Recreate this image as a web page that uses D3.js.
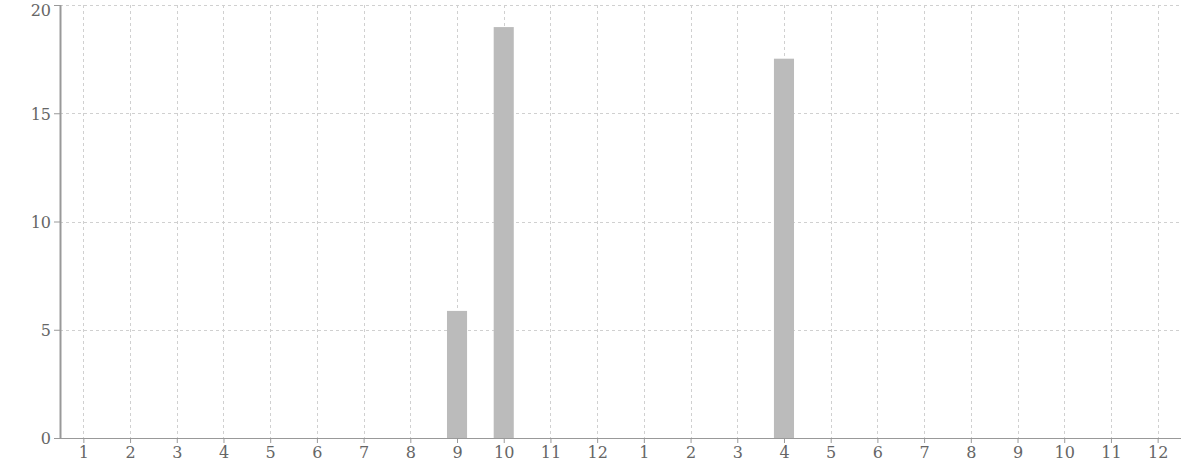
<!DOCTYPE html>
<html><head><meta charset="utf-8">
<script src="https://cdn.jsdelivr.net/npm/d3@7"></script>
<style>body{margin:0;background:#fff}svg{display:block}</style>
</head><body><svg id="c" width="1182" height="472"></svg>
<script>
const categories = ["1","2","3","4","5","6","7","8","9","10","11","12","1","2","3","4","5","6","7","8","9","10","11","12"];
const values = [0,0,0,0,0,0,0,0,5.87,18.98,0,0,0,0,0,17.52,0,0,0,0,0,0,0,0];
const yTicks = [0,5,10,15,20];

const svg = d3.select("#c");
const m = {l:60, r:1, t:5, b:34};
const W = 1182, H = 472;
const idx = d3.range(categories.length);
const x = d3.scaleBand().domain(idx).range([m.l, W - m.r]).paddingInner(0.57).paddingOuter(0.285);
const xc = i => x(i) + x.bandwidth()/2;
const y = d3.scaleLinear().domain([0,20]).range([H - m.b, m.t]);

const grid = svg.append("g").attr("stroke","#d0d0d0").attr("stroke-dasharray","3,3").attr("stroke-width",1);
grid.selectAll(".h").data(yTicks).join("line")
  .attr("x1", m.l).attr("x2", W - m.r)
  .attr("y1", d => Math.round(y(d))+0.5).attr("y2", d => Math.round(y(d))+0.5);
grid.selectAll(".v").data(idx).join("line")
  .attr("x1", d => Math.round(xc(d))+0.5).attr("x2", d => Math.round(xc(d))+0.5)
  .attr("y1", m.t).attr("y2", H - m.b);

svg.append("g").selectAll("rect").data(values).join("rect")
  .attr("x", (d,i) => x(i)).attr("width", x.bandwidth())
  .attr("y", d => y(d)).attr("height", d => y(0) - y(d))
  .attr("fill", "#bbbbbb");

function styleAxis(a) {
  a.attr("font-size", null).attr("font-family", null);
  a.selectAll("path").attr("stroke", "#999");
  a.selectAll("line").attr("stroke", "#999");
  a.selectAll("text").attr("fill", "#666")
    .attr("font-family", "DejaVu Serif").attr("font-size", "16px");
}
const xa = svg.append("g").attr("transform", `translate(0,${H - m.b})`)
  .call(d3.axisBottom(d3.scalePoint().domain(idx).range([xc(0), xc(idx.length-1)])).tickFormat(i => categories[i]).tickSize(5).tickSizeOuter(0));
const ya = svg.append("g").attr("transform", `translate(${m.l},0)`)
  .call(d3.axisLeft(y).tickValues(yTicks).tickSize(6).tickSizeOuter(0));
styleAxis(xa); styleAxis(ya);
xa.select("path").attr("d", `M${m.l},0.5H${W - m.r}`);
ya.select("path").attr("d", `M0.5,${m.t}V${H - m.b}`).attr("stroke-width", 2);
xa.selectAll("text").attr("dy", "0.72em");
ya.selectAll("text").attr("dy", d => d === yTicks[yTicks.length-1] ? "0.68em" : "0.36em").attr("x", -9);
</script></body></html>
